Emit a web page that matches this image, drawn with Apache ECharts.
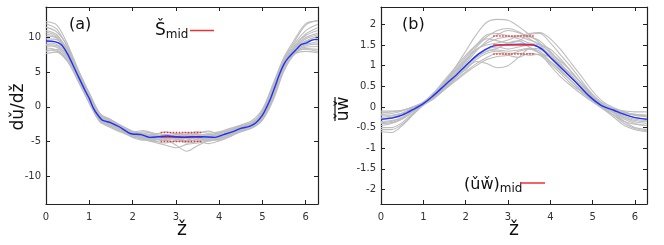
<!DOCTYPE html>
<html><head><meta charset="utf-8">
<script src="https://cdn.jsdelivr.net/npm/echarts@6/dist/echarts.min.js"></script>
<style>html,body{margin:0;padding:0;background:#fff}#c{width:664px;height:245px}</style>
</head><body><div id="c"></div>
<script>
// shared z grid for individual realisations
const zGrid = [0,0.25,0.5,0.75,1.0,1.25,1.5,1.75,2.0,2.25,2.5,2.75,3.0,3.25,3.5,3.75,4.0,4.25,4.5,4.75,5.0,5.25,5.5,5.75,6.0,6.28];
const xTicks = [0,1,2,3,4,5,6];
const yTicksA = [-10,-5,0,5,10];
const yTicksB = [-2,-1.5,-1,-0.5,0,0.5,1,1.5,2];

// panel (a): dU/dz realisations
const gA1 = [12.0,11.2,8.5,4.8,1.5,-1.5,-2.5,-3.4,-3.8,-4.2,-4.0,-3.6,-3.9,-4.1,-3.8,-3.5,-3.9,-3.4,-2.8,-2.2,-0.8,2.8,6.8,9.5,11.8,12.5];
const gA2 = [8.0,8.3,7.0,4.0,0.8,-1.9,-2.6,-3.5,-4.3,-4.6,-4.9,-5.2,-4.8,-4.6,-5.0,-4.7,-4.4,-3.9,-3.5,-3.0,-1.6,1.5,5.6,7.8,8.3,8.0];
const gA3 = [10.5,10.0,8.2,5.2,2.0,-1.0,-2.0,-3.0,-3.6,-3.9,-4.3,-4.0,-4.5,-5.0,-4.6,-4.0,-4.3,-3.5,-2.9,-2.5,-0.5,3.0,6.5,8.5,9.8,10.4];
const gA4 = [9.0,8.8,7.2,3.9,0.6,-2.0,-2.8,-3.3,-4.2,-4.5,-4.8,-4.4,-4.0,-4.2,-4.5,-4.9,-4.6,-4.1,-3.3,-2.9,-1.8,1.2,5.5,7.9,8.8,9.1];
const gA5 = [11.0,10.4,8.0,4.5,1.3,-1.3,-2.1,-2.9,-3.7,-4.0,-4.2,-4.6,-5.5,-6.4,-5.6,-4.8,-4.2,-3.8,-3.2,-2.6,-1.0,2.4,6.2,8.8,10.5,11.4];
const gA6 = [8.5,8.2,6.8,4.1,1.0,-1.8,-2.5,-3.2,-4.0,-4.4,-4.6,-4.8,-5.0,-4.8,-4.4,-4.6,-4.4,-3.6,-3.0,-2.4,-1.2,2.0,5.8,8.0,8.6,8.7];
const gA7 = [9.8,9.7,8.0,4.6,1.4,-1.4,-2.2,-3.1,-3.9,-3.6,-3.9,-4.4,-4.0,-3.7,-4.1,-4.4,-4.0,-3.8,-3.4,-2.5,-1.4,1.8,6.0,8.4,9.5,10.2];
const gA8 = [7.7,7.9,6.5,3.6,0.5,-2.2,-2.9,-3.6,-4.4,-4.8,-4.5,-4.2,-4.6,-5.2,-5.0,-4.5,-4.8,-4.2,-3.6,-3.1,-1.9,1.0,5.2,7.6,8.0,7.8];
const gA9 = [11.5,10.8,8.7,5.0,1.8,-1.1,-1.9,-2.7,-3.5,-4.0,-4.4,-4.1,-3.8,-4.0,-4.3,-4.1,-3.7,-3.2,-2.7,-2.3,-0.6,3.2,7.0,9.2,11.0,11.9];
const gA10 = [9.2,9.0,7.5,4.3,1.1,-1.7,-2.4,-3.3,-4.1,-4.3,-4.7,-4.5,-4.7,-4.4,-4.0,-4.2,-4.5,-4.0,-3.1,-2.8,-1.3,2.1,6.1,8.1,9.0,9.4];
const gA11 = [10.2,9.9,7.9,4.4,1.2,-1.6,-2.3,-3.0,-3.8,-4.1,-4.0,-4.3,-4.6,-4.3,-4.8,-5.3,-4.9,-4.3,-3.5,-2.7,-1.1,2.5,6.4,8.6,10.0,10.6];
const gA12 = [8.8,8.6,7.3,4.2,1.0,-1.9,-2.7,-3.4,-4.1,-4.6,-5.0,-4.7,-4.2,-4.6,-4.2,-3.9,-4.1,-3.7,-3.2,-2.6,-1.5,1.6,5.9,8.2,9.1,9.0];
const gA13 = [10.8,10.2,8.3,4.9,1.6,-1.2,-2.0,-2.8,-3.5,-3.8,-4.1,-4.6,-4.3,-4.9,-4.7,-4.3,-3.8,-3.3,-2.9,-2.3,-0.7,2.9,6.6,8.9,10.3,11.0];
const gA14 = [9.5,9.3,7.7,4.5,1.2,-1.5,-2.4,-3.2,-3.9,-4.2,-4.5,-4.9,-4.4,-4.5,-4.4,-4.7,-4.3,-3.9,-3.2,-2.6,-1.3,2.2,6.2,8.3,9.4,9.9];
const gA15 = [12.3,11.8,9.0,5.3,1.9,-1.0,-1.8,-2.9,-3.6,-3.4,-3.8,-4.0,-4.2,-3.9,-3.6,-3.8,-3.6,-3.1,-2.6,-2.0,-0.3,3.4,7.2,9.8,12.0,12.4];
const gA16 = [8.2,8.0,6.6,3.7,0.7,-2.1,-3.0,-3.7,-4.3,-4.7,-5.1,-5.5,-5.9,-5.4,-5.2,-4.9,-4.7,-4.0,-3.4,-3.0,-1.7,1.3,5.4,7.7,8.4,8.3];

// panel (a): mean curve
const zMeanA = [0,0.2,0.35,0.5,0.7,0.9,1.0,1.1,1.2,1.3,1.5,1.7,1.9,2.0,2.2,2.4,2.6,2.8,3.0,3.2,3.4,3.6,3.9,4.1,4.3,4.5,4.7,4.85,5.0,5.1,5.2,5.3,5.4,5.5,5.6,5.8,5.9,6.0,6.1,6.2,6.28];
const meanA = [9.5,9.4,9.0,7.6,5.0,2.4,1.2,-0.24,-1.2,-1.9,-2.3,-2.9,-3.7,-3.9,-4.0,-4.4,-4.3,-4.2,-4.3,-4.4,-4.3,-4.3,-4.4,-4.0,-3.6,-3.1,-2.8,-2.3,-1.2,0,1.4,3.1,4.8,6.2,7.1,8.4,9.0,9.2,9.5,9.7,9.7];

// panel (a): mid-channel value and +/- band
const midZ = [2.65,3.62];
const midA = -4.35, midAup = -3.7, midAlo = -5.0;

// panel (b): uw realisations
const gB1 = [-0.15,-0.12,-0.08,0.0,0.1,0.3,0.6,0.95,1.35,1.75,2.05,2.12,2.1,1.95,1.75,1.55,1.3,1.0,0.75,0.5,0.25,0.05,-0.05,-0.12,-0.18,-0.2];
const gB2 = [-0.6,-0.62,-0.45,-0.2,0.05,0.25,0.45,0.65,0.85,1.05,1.2,1.3,1.25,1.2,1.3,1.25,1.05,0.8,0.55,0.35,0.15,-0.05,-0.25,-0.45,-0.55,-0.6];
const gB3 = [-0.3,-0.28,-0.18,-0.05,0.1,0.3,0.55,0.8,1.05,1.35,1.6,1.75,1.85,1.8,1.7,1.6,1.35,1.05,0.75,0.45,0.2,0.0,-0.1,-0.22,-0.3,-0.33];
const gB4 = [-0.45,-0.4,-0.3,-0.12,0.06,0.22,0.45,0.7,0.9,1.1,1.05,0.95,1.0,1.2,1.4,1.35,1.1,0.85,0.62,0.38,0.15,-0.02,-0.15,-0.3,-0.4,-0.45];
const gB5 = [-0.2,-0.2,-0.15,-0.04,0.1,0.32,0.6,0.88,1.15,1.45,1.65,1.6,1.55,1.6,1.75,1.78,1.55,1.25,0.95,0.62,0.3,0.08,-0.05,-0.15,-0.2,-0.22];
const gB6 = [-0.35,-0.33,-0.25,-0.1,0.07,0.25,0.5,0.75,1.0,1.25,1.4,1.45,1.4,1.45,1.5,1.45,1.25,1.0,0.72,0.45,0.2,0.0,-0.12,-0.25,-0.33,-0.36];
const gB7 = [-0.1,-0.1,-0.08,0.0,0.12,0.35,0.65,0.95,1.25,1.5,1.7,1.85,1.9,1.82,1.65,1.5,1.2,0.9,0.62,0.35,0.15,0.02,-0.05,-0.1,-0.12,-0.12];
const gB8 = [-0.5,-0.5,-0.38,-0.15,0.05,0.2,0.42,0.68,0.92,1.15,1.3,1.35,1.3,1.3,1.25,1.28,1.2,1.0,0.8,0.55,0.3,0.06,-0.15,-0.35,-0.5,-0.55];
const gB9 = [-0.25,-0.22,-0.15,-0.02,0.1,0.28,0.52,0.8,1.1,1.38,1.55,1.65,1.7,1.72,1.78,1.8,1.65,1.38,1.05,0.72,0.38,0.12,-0.02,-0.12,-0.2,-0.24];
const gB10 = [-0.4,-0.38,-0.28,-0.1,0.08,0.26,0.48,0.72,0.98,1.2,1.35,1.42,1.55,1.6,1.45,1.3,1.0,0.72,0.5,0.3,0.12,-0.05,-0.2,-0.35,-0.42,-0.45];
const gB11 = [-0.18,-0.16,-0.1,0.0,0.11,0.3,0.58,0.9,1.2,1.5,1.75,1.78,1.72,1.65,1.55,1.5,1.4,1.15,0.85,0.55,0.25,0.05,-0.06,-0.14,-0.18,-0.2];
const gB12 = [-0.55,-0.55,-0.42,-0.18,0.04,0.22,0.42,0.62,0.82,1.0,1.15,1.22,1.25,1.35,1.4,1.3,1.1,0.88,0.62,0.4,0.18,-0.02,-0.2,-0.4,-0.52,-0.58];
const gB13 = [-0.28,-0.25,-0.17,-0.04,0.09,0.3,0.56,0.85,1.12,1.4,1.5,1.55,1.62,1.7,1.62,1.52,1.32,1.1,0.85,0.55,0.25,0.03,-0.08,-0.18,-0.26,-0.28];
const gB14 = [-0.38,-0.35,-0.26,-0.1,0.07,0.24,0.47,0.7,0.95,1.2,1.35,1.38,1.35,1.38,1.42,1.4,1.2,0.95,0.7,0.46,0.22,0.01,-0.12,-0.26,-0.36,-0.4];

// panel (b): mean curve
const zMeanB = [0,0.3,0.5,0.8,1.0,1.2,1.5,1.8,2.0,2.3,2.6,2.8,3.0,3.3,3.6,3.8,4.0,4.3,4.6,4.9,5.2,5.5,5.8,6.0,6.28];
const meanB = [-0.3,-0.26,-0.2,-0.04,0.08,0.24,0.52,0.8,1.0,1.28,1.46,1.5,1.51,1.52,1.5,1.4,1.2,0.9,0.6,0.28,0.04,-0.08,-0.2,-0.26,-0.3];
const midB = 1.5, midBup = 1.72, midBlo = 1.28;

const grayA = [gA1,gA2,gA3,gA4,gA5,gA6,gA7,gA8,gA9,gA10,gA11,gA12,gA13,gA14,gA15,gA16];
const grayB = [gB1,gB2,gB3,gB4,gB5,gB6,gB7,gB8,gB9,gB10,gB11,gB12,gB13,gB14];

const TWO_PI = 2*Math.PI;
const GRAY = '#bdbdbd', BLUE = '#1f2fff', RED = '#f03030';
const FONT = 'DejaVu Sans';
const pair = (xs, ys) => xs.map((x,i)=>[x, ys[i]]);

const grids = [
  {left:46, top:7, width:272, height:197},
  {left:381, top:7, width:266, height:197}
];
function xAx(gi, pos, show){
  return {type:'value', gridIndex:gi, position:pos, min:0, max:TWO_PI,
    axisLine:{show:true, onZero:false, lineStyle:{color:'#222', width:1.2}},
    axisTick:{show:true, inside:true, length:4, customValues:xTicks, lineStyle:{color:'#222'}},
    axisLabel:{show:show, customValues:xTicks, color:'#333', fontFamily:FONT, fontSize:10, margin:8},
    splitLine:{show:false}};
}
function yAx(gi, pos, show, min, max, ticks){
  return {type:'value', gridIndex:gi, position:pos, min:min, max:max,
    axisLine:{show:true, onZero:false, lineStyle:{color:'#222', width:1.2}},
    axisTick:{show:true, inside:true, length:4, customValues:ticks, lineStyle:{color:'#222'}},
    axisLabel:{show:show, customValues:ticks, color:'#333', fontFamily:FONT, fontSize:10, margin:5},
    splitLine:{show:false}};
}
const series = [];
grayA.forEach(g => series.push({type:'line', xAxisIndex:0, yAxisIndex:0, data:pair(zGrid,g), symbol:'none', smooth:0.3, lineStyle:{color:GRAY, width:1.1}, silent:true, z:1}));
series.push({type:'line', xAxisIndex:0, yAxisIndex:0, data:pair(midZ,[midAup,midAup]), symbol:'none', lineStyle:{color:RED, width:1.5, type:[1.5,1.5]}, z:3});
series.push({type:'line', xAxisIndex:0, yAxisIndex:0, data:pair(midZ,[midAlo,midAlo]), symbol:'none', lineStyle:{color:RED, width:1.5, type:[1.5,1.5]}, z:3});
series.push({type:'line', xAxisIndex:0, yAxisIndex:0, data:pair(midZ,[midA,midA]), symbol:'none', lineStyle:{color:RED, width:1.5}, z:3});
series.push({type:'line', xAxisIndex:0, yAxisIndex:0, data:pair(zMeanA,meanA), symbol:'none', smooth:0.3, lineStyle:{color:BLUE, width:1.4}, z:4});

grayB.forEach(g => series.push({type:'line', xAxisIndex:2, yAxisIndex:2, data:pair(zGrid,g), symbol:'none', smooth:0.3, lineStyle:{color:GRAY, width:1.1}, silent:true, z:1}));
series.push({type:'line', xAxisIndex:2, yAxisIndex:2, data:pair(midZ,[midBup,midBup]), symbol:'none', lineStyle:{color:RED, width:1.5, type:[1.5,1.5]}, z:3});
series.push({type:'line', xAxisIndex:2, yAxisIndex:2, data:pair(midZ,[midBlo,midBlo]), symbol:'none', lineStyle:{color:RED, width:1.5, type:[1.5,1.5]}, z:3});
series.push({type:'line', xAxisIndex:2, yAxisIndex:2, data:pair(zMeanB,meanB), symbol:'none', smooth:0.3, lineStyle:{color:BLUE, width:1.4}, z:4});
series.push({type:'line', xAxisIndex:2, yAxisIndex:2, data:pair(midZ,[midB,midB]), symbol:'none', lineStyle:{color:RED, width:1.5}, z:5});

const chart = echarts.init(document.getElementById('c'), null, {renderer:'canvas'});
chart.setOption({
  animation:false,
  grid: grids,
  xAxis: [xAx(0,'bottom',true), xAx(0,'top',false), xAx(1,'bottom',true), xAx(1,'top',false)],
  yAxis: [yAx(0,'left',true,-14,14.4,yTicksA), yAx(0,'right',false,-14,14.4,yTicksA),
          yAx(1,'left',true,-2.35,2.42,yTicksB), yAx(1,'right',false,-2.35,2.42,yTicksB)],
  series: series,
  graphic: [
    {type:'text', x:69, y:25, style:{text:'(a)', font:'16px '+FONT, fill:'#111', textVerticalAlign:'middle'}},
    {type:'text', x:402, y:25, style:{text:'(b)', font:'16px '+FONT, fill:'#111', textVerticalAlign:'middle'}},
    {type:'text', x:182, y:230, style:{text:'ž', font:'19px '+FONT, fill:'#111', textAlign:'center', textVerticalAlign:'middle'}},
    {type:'text', x:514, y:230, style:{text:'ž', font:'19px '+FONT, fill:'#111', textAlign:'center', textVerticalAlign:'middle'}},
    {type:'text', x:19, y:107, rotation:Math.PI/2, style:{text:'dǔ/dž', font:'17px '+FONT, fill:'#111', textAlign:'center', textVerticalAlign:'middle'}},
    {type:'text', x:344, y:109, rotation:Math.PI/2, style:{text:'ǔw̌', font:'17px '+FONT, fill:'#111', textAlign:'center', textVerticalAlign:'middle'}},
    {type:'line', shape:{x1:335, y1:97, x2:335, y2:121}, style:{stroke:'#111', lineWidth:1.2}},
    {type:'text', x:155, y:31, style:{text:'{b|Š}{s|mid}', rich:{b:{font:'17px '+FONT, fill:'#111'}, s:{font:'12px '+FONT, fill:'#111', padding:[8,0,0,0]}}, textVerticalAlign:'middle'}},
    {type:'line', shape:{x1:190, y1:30.5, x2:214, y2:30.5}, style:{stroke:RED, lineWidth:1.5}},
    {type:'text', x:464, y:185, style:{text:'{b|(ǔw̌)}{s|mid}', rich:{b:{font:'16px '+FONT, fill:'#111'}, s:{font:'12px '+FONT, fill:'#111', padding:[8,0,0,0]}}, textVerticalAlign:'middle'}},
    {type:'line', shape:{x1:520, y1:183, x2:545, y2:183}, style:{stroke:RED, lineWidth:1.5}}
  ]
});
</script></body></html>
